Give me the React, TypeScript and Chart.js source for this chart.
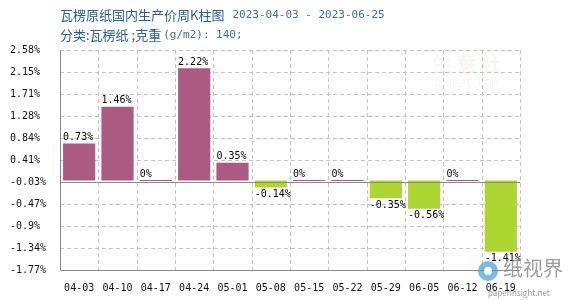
import React, { useEffect, useRef } from "react";
import { Chart, registerables } from "chart.js";

Chart.register(...registerables);

const categories = ["04-03", "04-10", "04-17", "04-24", "05-01", "05-08", "05-15", "05-22", "05-29", "06-05", "06-12", "06-19"];
const values = [0.73, 1.46, 0, 2.22, 0.35, -0.14, 0, 0, -0.35, -0.56, 0, -1.41];
const yTickValues = [-1.77, -1.335, -0.9, -0.465, -0.03, 0.405, 0.84, 1.275, 1.71, 2.145, 2.58];
const yTickLabels = ["-1.77%", "-1.34%", "-0.9%", "-0.47%", "-0.03%", "0.41%", "0.84%", "1.28%", "1.71%", "2.15%", "2.58%"];
const titleMain = "瓦楞原纸国内生产价周K柱图";
const titleDates = "2023-04-03 - 2023-06-25";
const subtitleCn = "分类:瓦楞纸 ;克重";
const subtitleEn = "(g/m2): 140;";

const POS = "#AB5A82";
const NEG = "#ADD633";
const GRID = "#c4c4c4";
const MONO = "'DejaVu Sans Mono', 'Liberation Mono', monospace";
const CJK = "'Noto Sans CJK SC', sans-serif";

const decorPlugin = {
  id: "decor",
  beforeDatasetsDraw(chart: any) {
    const ctx = chart.ctx;
    const area = chart.chartArea;
    const y = chart.scales.y;
    ctx.save();
    // faint watermark
    ctx.fillStyle = "rgba(238,222,222,0.3)";
    ctx.font = `bold 20px ${CJK}`;
    ctx.textBaseline = "middle";
    ctx.fillText("生 意 社", 432, 64);
    ctx.font = `11px ${MONO}`;
    ctx.fillStyle = "rgba(228,220,220,0.3)";
    ctx.fillText("100PPI.COM", 432, 84);
    // dashed grid
    ctx.strokeStyle = GRID;
    ctx.lineWidth = 1;
    ctx.setLineDash([4, 3]);
    yTickValues.forEach((v) => {
      const p = Math.round(y.getPixelForValue(v)) + 0.5;
      ctx.beginPath();
      ctx.moveTo(area.left, p);
      ctx.lineTo(area.right, p);
      ctx.stroke();
    });
    const n = categories.length;
    const step = (area.right - area.left) / n;
    for (let i = 1; i <= n; i++) {
      const p = Math.round(area.left + i * step) + 0.5;
      ctx.beginPath();
      ctx.moveTo(p, area.top);
      ctx.lineTo(p, area.bottom);
      ctx.stroke();
    }
    ctx.setLineDash([]);
    ctx.restore();
  },
  afterDatasetsDraw(chart: any) {
    const ctx = chart.ctx;
    const y = chart.scales.y;
    const area = chart.chartArea;
    ctx.save();
    ctx.strokeStyle = "#8a8a8a";
    ctx.lineWidth = 1;
    // baseline line
    const yp = Math.round(y.getPixelForValue(-0.03)) + 0.5;
    ctx.beginPath();
    ctx.moveTo(area.left, yp);
    ctx.lineTo(area.right, yp);
    ctx.stroke();
    // axes
    ctx.strokeStyle = "#888";
    ctx.beginPath();
    ctx.moveTo(Math.round(area.left) + 0.5, area.top);
    ctx.lineTo(Math.round(area.left) + 0.5, Math.round(area.bottom) + 0.5);
    ctx.lineTo(area.right, Math.round(area.bottom) + 0.5);
    ctx.stroke();
    // data labels
    const meta = chart.getDatasetMeta(0);
    ctx.font = `10px ${MONO}`;
    ctx.fillStyle = "#000";
    ctx.textAlign = "left";
    meta.data.forEach((bar: any, i: number) => {
      const v = values[i];
      const left = bar.x - bar.width / 2;
      const txt = `${v}%`;
      if (v >= 0) {
        ctx.textBaseline = "bottom";
        ctx.fillText(txt, left, Math.min(bar.y, bar.base) - 1);
      } else {
        ctx.textBaseline = "top";
        ctx.fillText(txt, left, Math.max(bar.y, bar.base) + 2);
      }
    });
    ctx.restore();
  },
  afterDraw(chart: any) {
    const ctx = chart.ctx;
    ctx.save();
    ctx.textBaseline = "middle";
    ctx.textAlign = "left";
    ctx.fillStyle = "#2a5f92";
    ctx.font = `13px ${CJK}`;
    ctx.fillText(titleMain, 60, 15);
    const w = ctx.measureText(titleMain).width;
    ctx.fillStyle = "#3b6f9c";
    ctx.font = `11px ${MONO}`;
    ctx.fillText(titleDates, 60 + w + 8, 15);
    ctx.fillStyle = "#2a5f92";
    ctx.font = `13px ${CJK}`;
    ctx.fillText(subtitleCn, 60, 35);
    const w2 = ctx.measureText(subtitleCn).width;
    ctx.fillStyle = "#3b6f9c";
    ctx.font = `11px ${MONO}`;
    ctx.fillText(subtitleEn, 60 + w2 + 2, 35);
    // bottom-right logo
    ctx.fillStyle = "rgba(70,160,210,0.7)";
    ctx.beginPath();
    ctx.arc(488, 271, 10, 0, Math.PI * 2);
    ctx.fill();
    ctx.fillStyle = "#fff";
    ctx.beginPath();
    ctx.arc(488, 271, 4, 0, Math.PI * 2);
    ctx.fill();
    ctx.fillStyle = "rgba(140,140,140,0.85)";
    ctx.font = `20px ${CJK}`;
    ctx.fillText("纸视界", 503, 268);
    ctx.font = `8px ${CJK}`;
    ctx.fillStyle = "rgba(120,120,120,0.8)";
    ctx.fillText("paperinsight.net", 488, 293);
    ctx.restore();
  },
};

export default function App() {
  const ref = useRef<HTMLCanvasElement>(null);
  useEffect(() => {
    document.body.style.margin = "0";
    const chart = new Chart(ref.current as HTMLCanvasElement, {
      type: "bar",
      data: {
        labels: categories,
        datasets: [
          {
            data: values,
            backgroundColor: values.map((v) => (v < 0 ? NEG : POS)),
            barPercentage: 0.84,
            categoryPercentage: 1,
            minBarLength: 1,
          },
        ],
      },
      options: {
        animation: false,
        responsive: false,
        maintainAspectRatio: false,
        layout: { padding: { left: 10, right: 50, top: 50, bottom: 0 } },
        plugins: { legend: { display: false }, tooltip: { enabled: false }, title: { display: false } },
        scales: {
          x: {
            grid: { display: false, drawTicks: false },
            border: { display: false },
            ticks: { color: "#111", font: { family: MONO, size: 10 }, padding: 12, maxRotation: 0, autoSkip: false },
            afterFit(scale: any) {
              scale.height = 30;
            },
          },
          y: {
            min: -1.77,
            max: 2.58,
            afterBuildTicks(scale: any) {
              scale.ticks = yTickValues.map((v) => ({ value: v }));
            },
            grid: { display: false, drawTicks: false },
            border: { display: false },
            ticks: {
              color: "#111",
              font: { family: MONO, size: 10 },
              crossAlign: "far",
              padding: 0,
              callback: (_v: any, i: number) => yTickLabels[i],
            },
            afterFit(scale: any) {
              scale.width = 50;
            },
          },
        },
      },
      plugins: [decorPlugin],
    });
    return () => chart.destroy();
  }, []);
  return (
    <div style={{ position: "absolute", left: 0, top: 0, width: 570, height: 300 }}>
      <canvas ref={ref} width={570} height={300} style={{ width: 570, height: 300 }} />
    </div>
  );
}
